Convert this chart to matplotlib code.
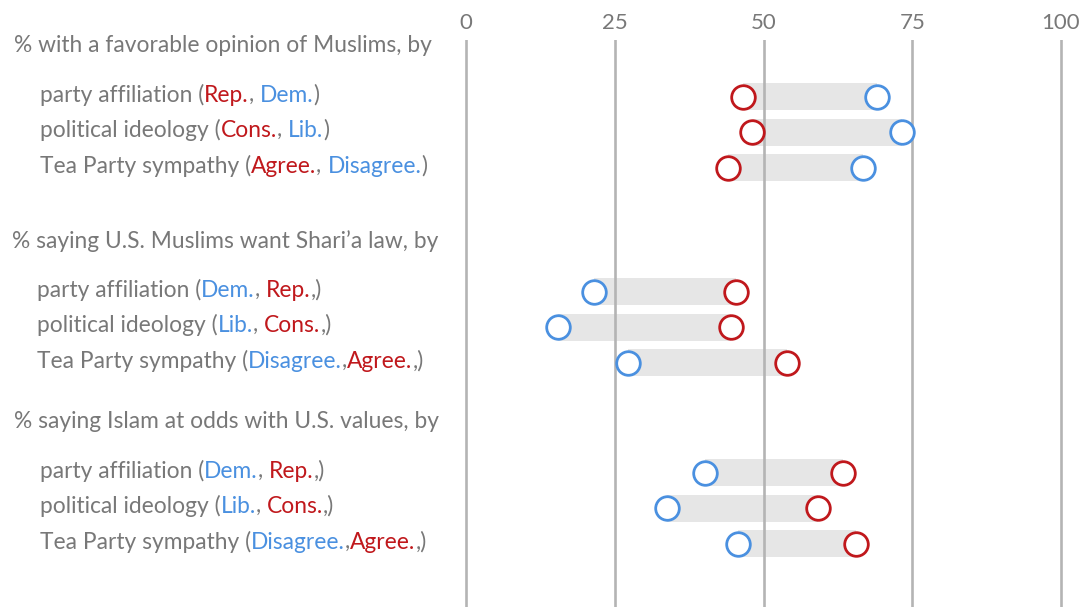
import matplotlib
matplotlib.use("Agg")
import matplotlib.pyplot as plt
from matplotlib.transforms import blended_transform_factory

# ---- data ----
headers = ["% with a favorable opinion of Muslims, by",
           "% saying U.S. Muslims want Shari\u2019a law, by",
           "% saying Islam at odds with U.S. values, by"]
row_names = ["party affiliation", "political ideology", "Tea Party sympathy"] * 3
first_terms = ["Rep.", "Cons.", "Agree.", "Dem.", "Lib.", "Disagree.", "Dem.", "Lib.", "Disagree."]
second_terms = ["Dem.", "Lib.", "Disagree.", "Rep.", "Cons.", "Agree.", "Rep.", "Cons.", "Agree."]
separators = [", ", ", ", ", ", ", ", ", ", ",", ", ", ", ", ","]
closers = [")", ")", ")", ",)", ",)", ",)", ",)", ",)", ",)"]
red_vals = [46.5, 48.1, 44.1, 45.4, 44.5, 54.0, 63.4, 59.2, 65.6]
blue_vals = [69.0, 73.2, 66.8, 21.5, 15.5, 27.3, 40.1, 33.7, 45.7]
ticks = [0, 25, 50, 75, 100]

RED = "#c0181c"
BLUE = "#4a90e0"
GRAY_TXT = "#787878"
GRID = "#b4b4b4"
BAR = "#e6e6e6"

plt.rcParams['font.family'] = ['Lato', 'DejaVu Sans']

W, H = 1091, 607
fig = plt.figure(figsize=(W / 100, H / 100), dpi=100)
top_px = 40
ax = fig.add_axes([0, 0, 1, (H - top_px) / H])
px_per_unit = 5.95
ax.set_xlim(-466 / px_per_unit, (W - 466) / px_per_unit)
ax.set_ylim(H, top_px)  # y in pixels from top

# layout of the three groups (header pixel y) and rows
header_y = [46, 241, 422]
row_gap = 35.5
row_y = []
for hy in header_y:
    for k in range(3):
        row_y.append(hy + 50.5 + k * row_gap)

for spine in ax.spines.values():
    spine.set_visible(False)
ax.set_yticks([])
ax.set_xticks(ticks)
ax.xaxis.tick_top()
ax.tick_params(axis='x', length=0, pad=5, labelsize=16, labelcolor=GRAY_TXT)
for t in ticks:
    ax.axvline(t, color=GRID, lw=1.9, zorder=2)

# bars + circles
for y, r, b in zip(row_y, red_vals, blue_vals):
    lo, hi = min(r, b), max(r, b)
    ax.barh(y, hi - lo, left=lo, height=27, color=BAR, zorder=1)
    ax.plot(r, y, 'o', ms=17, mfc='white', mec=RED, mew=2.0, zorder=3)
    ax.plot(b, y, 'o', ms=17, mfc='white', mec=BLUE, mew=2.0, zorder=3)

# text
tr = blended_transform_factory(fig.transFigure, ax.transData)
fs = 16.4
header_x = [14, 12, 14]
for hx, hy, h in zip(header_x, header_y, headers):
    ax.text(hx / W, hy, h, transform=tr, fontsize=fs, color=GRAY_TXT,
            va='center', ha='left')

row_x = [40, 40, 40, 37, 37, 37, 40, 40, 40]
for i, y in enumerate(row_y):
    if i < 3:
        c1, c2 = RED, BLUE
    else:
        c1, c2 = BLUE, RED
    pieces = [(row_names[i] + " (", GRAY_TXT), (first_terms[i], c1),
              (separators[i], GRAY_TXT), (second_terms[i], c2),
              (closers[i], GRAY_TXT)]
    txt = ax.text(row_x[i] / W, y - 2, pieces[0][0], transform=tr, fontsize=fs,
                  color=pieces[0][1], va='center', ha='left')
    for s, c in pieces[1:]:
        txt = ax.annotate(s, xycoords=txt, xy=(1, 0), va='bottom', ha='left',
                          fontsize=fs, color=c)

fig.savefig("out.png", dpi=100)
